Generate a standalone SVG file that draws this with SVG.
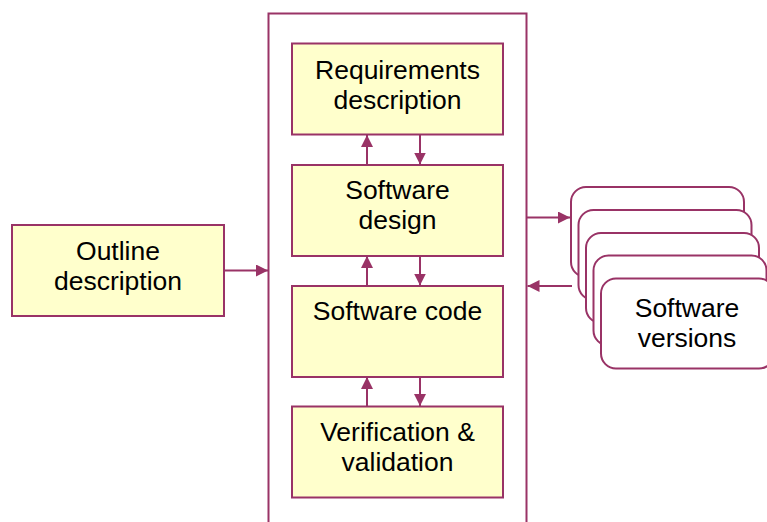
<svg xmlns="http://www.w3.org/2000/svg" width="767" height="522" viewBox="0 0 767 522">
  <style>
    .box { fill: #FFFFCC; stroke: #993366; stroke-width: 2; }
    .ver { fill: #FFFFFF; stroke: #993366; stroke-width: 2; }
    .frame { fill: none; stroke: #993366; stroke-width: 2; }
    .lbl { font-family: "Liberation Sans", Arial, sans-serif; font-size: 26.5px; fill: #000; text-anchor: middle; }
    .link { fill: none; stroke: #993366; stroke-width: 2; marker-end: url(#arrow); }
  </style>
  <defs>
    <marker id="arrow" viewBox="0 0 10 10" refX="10" refY="5" markerWidth="6" markerHeight="6" markerUnits="strokeWidth" orient="auto">
      <path d="M0,0 L10,5 L0,10 z" fill="#993366"/>
    </marker>
  </defs>

  <rect width="767" height="522" fill="#FFFFFF"/>

  <!-- process frame -->
  <g id="process">
    <path class="frame" d="M268.5,530 V13.5 H526.5 V530"/>
  </g>

  <g id="outline">
    <rect class="box" x="12" y="225" width="212" height="91"/>
    <text class="lbl" x="118" y="260">Outline</text>
    <text class="lbl" x="118" y="290">description</text>
  </g>

  <g id="requirements">
    <rect class="box" x="292" y="43.5" width="211" height="91"/>
    <text class="lbl" x="397.5" y="79">Requirements</text>
    <text class="lbl" x="397.5" y="109">description</text>
  </g>

  <g id="design">
    <rect class="box" x="292" y="165" width="211" height="91"/>
    <text class="lbl" x="397.5" y="199">Software</text>
    <text class="lbl" x="397.5" y="229">design</text>
  </g>

  <g id="code">
    <rect class="box" x="292" y="286" width="211" height="91"/>
    <text class="lbl" x="397.5" y="320">Software code</text>
  </g>

  <g id="verification">
    <rect class="box" x="292" y="406.5" width="211" height="91"/>
    <text class="lbl" x="397.5" y="441">Verification &amp;</text>
    <text class="lbl" x="397.5" y="471">validation</text>
  </g>

  <g id="versions">
    <rect class="ver" x="571" y="187" width="173" height="90" rx="15"/>
    <rect class="ver" x="578.5" y="210" width="173" height="90" rx="15"/>
    <rect class="ver" x="586" y="233" width="173" height="90" rx="15"/>
    <rect class="ver" x="593.5" y="255.5" width="173" height="90" rx="15"/>
    <rect class="ver" x="601" y="278.5" width="173" height="90" rx="15"/>
    <text class="lbl" x="687" y="317">Software</text>
    <text class="lbl" x="687" y="347">versions</text>
  </g>

  <g id="connectors">
    <line class="link" x1="224" y1="270.5" x2="268" y2="270.5"/>
    <line class="link" x1="367" y1="165" x2="367" y2="135"/>
    <line class="link" x1="420" y1="134.5" x2="420" y2="164.5"/>
    <line class="link" x1="367" y1="286" x2="367" y2="256"/>
    <line class="link" x1="420" y1="256" x2="420" y2="285.5"/>
    <line class="link" x1="367" y1="406.5" x2="367" y2="377"/>
    <line class="link" x1="420" y1="377" x2="420" y2="406"/>
    <line class="link" x1="526.5" y1="217.5" x2="570" y2="217.5"/>
    <line class="link" x1="572" y1="286" x2="527.5" y2="286"/>
  </g>
</svg>
